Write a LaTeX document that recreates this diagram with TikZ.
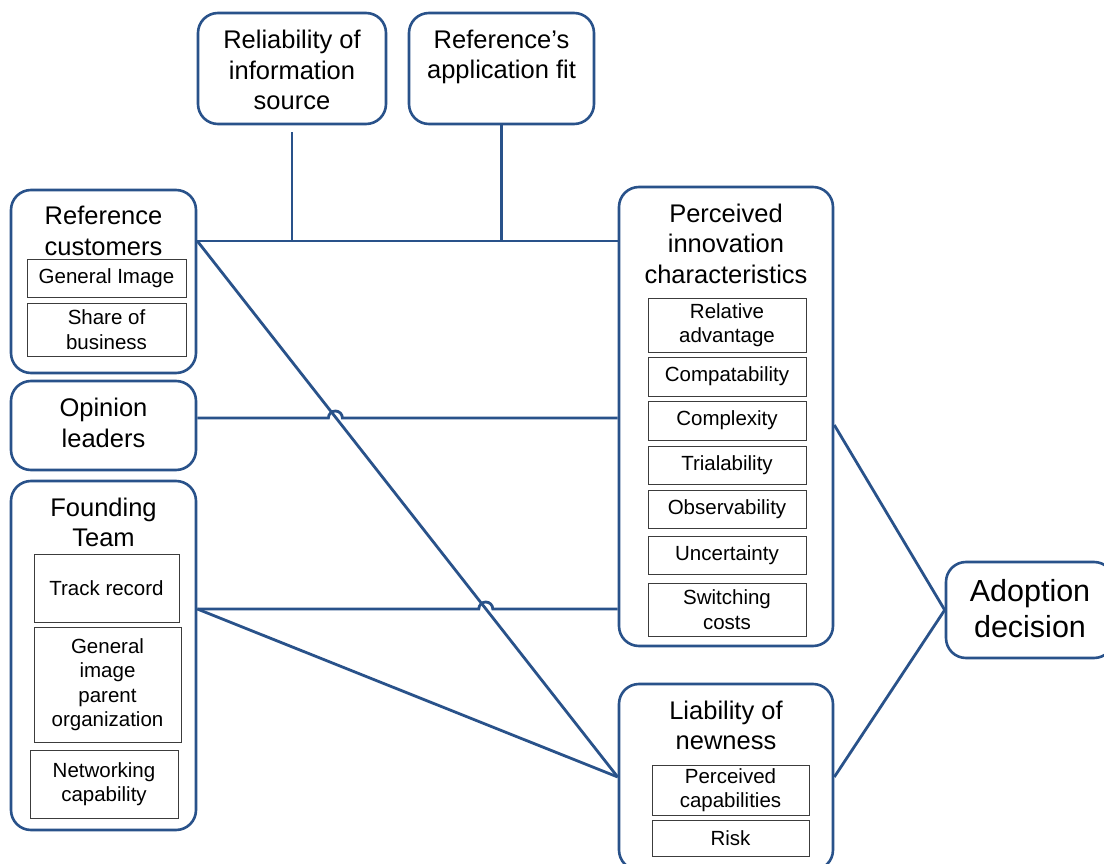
\documentclass[tikz,border=0pt]{standalone}
\usepackage{fontspec}
\setmainfont{Liberation Sans}
\definecolor{bblue}{RGB}{41,82,138}
\definecolor{sgray}{RGB}{60,60,60}
\begin{document}
\begin{tikzpicture}[x=1pt,y=-1pt,
  box/.style={draw=bblue,line width=2.6pt,rounded corners=20pt,inner sep=0pt},
  sub/.style={draw=sgray,line width=0.9pt,inner sep=0pt,align=center,font=\fontsize{20.5}{24.5}\selectfont},
  ttl/.style={align=center,inner sep=0pt,font=\fontsize{25.5}{30.5}\selectfont},
  conn/.style={draw=bblue,line width=2.8pt}]
\useasboundingbox (0,0) rectangle (1104,864);
\clip (0,0) rectangle (1104,864);
\fill[white] (0,0) rectangle (1104,864);
% boxes
\node[box,minimum width=188pt,minimum height=111pt] (rel) at (292,68.5) {};
\node[ttl] (relt) at (292,70) {Reliability of\\information\\source};
\node[box,minimum width=185pt,minimum height=111pt] (raf) at (501.5,68.5) {};
\node[ttl] (raft) at (501.5,57) {Reference’s\\application fit};
\node[box,minimum width=185pt,minimum height=183pt] (rc) at (103.5,281.5) {};
\node[ttl] (rct) at (103.5,231) {Reference\\customers};
\node[sub,minimum width=159pt,minimum height=38pt] (gi) at (106.5,278) {General Image};
\node[sub,minimum width=159pt,minimum height=53pt] (sb) at (106.5,329.5) {Share of\\business};
\node[box,minimum width=185pt,minimum height=89pt] (ol) at (103.5,425.5) {};
\node[ttl] (olt) at (103.5,423) {Opinion\\leaders};
\node[box,minimum width=185pt,minimum height=349pt] (ft) at (103.5,655.5) {};
\node[ttl] (ftt) at (103.5,522.5) {Founding\\Team};
\node[sub,minimum width=145pt,minimum height=68pt] (tr) at (106.5,588) {Track record};
\node[sub,minimum width=147pt,minimum height=115pt] (gip) at (107.5,684.5) {General\\image\\parent\\organization};
\node[sub,minimum width=148pt,minimum height=68pt] (nc) at (104,784) {Networking\\capability};
\node[box,minimum width=214pt,minimum height=459pt] (pic) at (726,416.5) {};
\node[ttl] (pict) at (726,243.5) {Perceived\\innovation\\characteristics};
\node[sub,minimum width=158pt,minimum height=54pt] (ra) at (727,325) {Relative\\advantage};
\node[sub,minimum width=158pt,minimum height=39pt] (cp) at (727,376.5) {Compatability};
\node[sub,minimum width=158pt,minimum height=39pt] (cx) at (727,420.5) {Complexity};
\node[sub,minimum width=158pt,minimum height=38pt] (tl) at (727,465) {Trialability};
\node[sub,minimum width=158pt,minimum height=38pt] (ob) at (727,509) {Observability};
\node[sub,minimum width=158pt,minimum height=38pt] (un) at (727,555) {Uncertainty};
\node[sub,minimum width=158pt,minimum height=53pt] (sc) at (727,609.5) {Switching\\costs};
\node[box,minimum width=168pt,minimum height=96pt] (ad) at (1030,610) {};
\node[ttl,font=\fontsize{30.5}{36}\selectfont] (adt) at (1030,609) {Adoption\\decision};
\node[box,minimum width=214pt,minimum height=186pt] (ln) at (726,777) {};
\node[ttl] (lnt) at (726,725.5) {Liability of\\newness};
\node[sub,minimum width=157pt,minimum height=50pt] (pc) at (730.5,790) {Perceived\\capabilities};
\node[sub,minimum width=157pt,minimum height=36pt] (rk) at (730.5,838) {Risk};
% connectors
\coordinate (a1) at ([yshift=40.5pt]rc.east);
\coordinate (o1) at ([yshift=7.5pt]ol.east);
\coordinate (f1) at ([yshift=46.5pt]ft.east);
\draw[conn] (a1) -- (a1 -| pic.west);
\draw[conn] ([yshift=-7pt]rel.south) -- (rel.south |- a1);
\draw[conn] (raf.south) -- (raf.south |- a1);
\draw[conn] (o1) -- (328.4,418) arc[start angle=180,end angle=360,radius=7] -- (o1 -| pic.west);
\draw[conn] (f1) -- (478.8,609) arc[start angle=180,end angle=360,radius=7] -- (f1 -| pic.west);
\draw[conn] (a1) -- (ln.west);
\draw[conn] (f1) -- (ln.west);
\draw[conn] ([yshift=-8.5pt]pic.east) -- (ad.west);
\draw[conn] (ln.east) -- (ad.west);
\end{tikzpicture}
\end{document}
